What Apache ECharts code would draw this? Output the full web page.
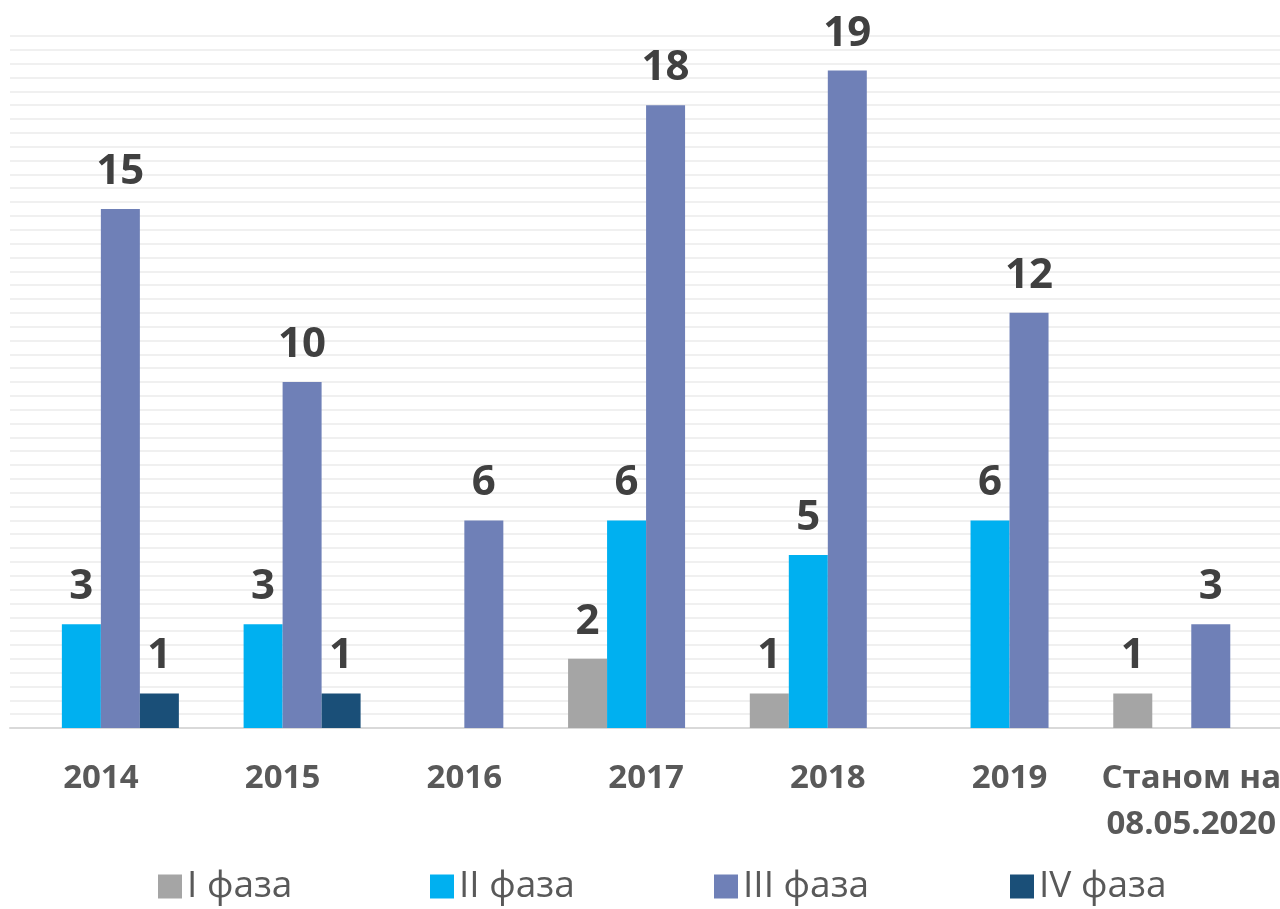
<!DOCTYPE html>
<html>
<head>
<meta charset="utf-8">
<script src="https://cdn.jsdelivr.net/npm/echarts@6/dist/echarts.min.js"></script>
<style>
  html, body { margin: 0; padding: 0; background: #fff; overflow: hidden; }
  /* a few px wider than the window: the plot runs past the right edge, as in the original */
  #chart { width: 1284px; height: 909px; }
</style>
</head>
<body>
<div id="chart"></div>
<script>
// data
const categories = ['2014', '2015', '2016', '2017', '2018', '2019', 'Станом на\n08.05.2020'];
const phase1 = [null, null, null, 2, 1, null, 1];
const phase2 = [3, 3, null, 6, 5, 6, null];
const phase3 = [15, 10, 6, 18, 19, 12, 3];
const phase4 = [1, 1, null, null, null, null, null];

const seriesNames = ['I фаза', 'II фаза', 'III фаза', 'IV фаза'];
const seriesColors = ['#A5A5A5', '#00B0F0', '#6F80B7', '#1A4F78'];
const seriesData = [phase1, phase2, phase3, phase4];

const FONT = '"Open Sans", "Noto Sans", sans-serif';

// one legend per entry so each sits where the original has it
const legendLeft = [158, 430, 714, 1010];

const chart = echarts.init(document.getElementById('chart'));

chart.setOption({
  animation: false,
  textStyle: { fontFamily: FONT },
  grid: { left: 10, right: 0, top: 36, bottom: 181, containLabel: false },
  legend: seriesNames.map((name, i) => ({
    left: legendLeft[i],
    top: 868,
    padding: 0,
    itemWidth: 24,
    itemHeight: 24,
    itemTextGap: 12,
    icon: 'rect',
    textStyle: { fontSize: 37, color: '#595959', fontFamily: FONT },
    data: [name]
  })),
  xAxis: {
    type: 'category',
    data: categories,
    axisLine: { lineStyle: { color: '#D9D9D9', width: 2 } },
    axisTick: { show: false },
    axisLabel: {
      fontSize: 33,
      fontWeight: 'bold',
      color: '#595959',
      margin: 28,
      lineHeight: 46,
      interval: 0,
      fontFamily: FONT
    }
  },
  yAxis: {
    type: 'value',
    min: 0,
    max: 20,
    interval: 0.4,
    axisLabel: { show: false },
    axisLine: { show: false },
    axisTick: { show: false },
    splitLine: { lineStyle: { color: '#F0F0F0', width: 2 } }
  },
  series: seriesData.map((d, i) => ({
    name: seriesNames[i],
    type: 'bar',
    data: d,
    barWidth: 39,
    barGap: '0%',
    itemStyle: { color: seriesColors[i] },
    label: {
      show: true,
      position: 'top',
      distance: 16,
      fontSize: 42,
      fontWeight: 'bold',
      color: '#404040',
      fontFamily: FONT
    }
  }))
});
</script>
</body>
</html>
